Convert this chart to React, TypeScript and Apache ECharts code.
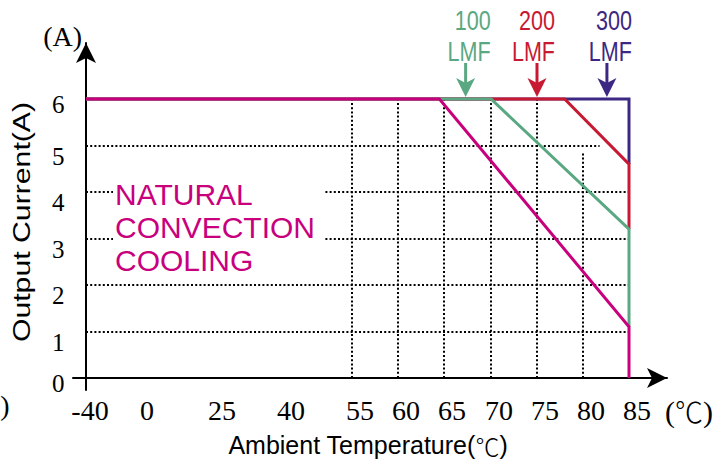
import React, { useEffect, useRef } from "react";
import * as echarts from "echarts";

// ---- Data ----
// x axis is a broken (non-linear) temperature scale: tick temperatures and their relative spacing
const xTicks = [-40, 0, 25, 40, 55, 60, 65, 70, 75, 80, 85];
const xTickPos = [0, 53, 128, 197, 266, 312, 358, 405, 451, 497, 543];
const yTicks = [0, 1, 2, 3, 4, 5, 6];

// derating curves: [temperature °C, output current A]
const lmf300 = [[-40, 6], [85, 6], [85, 4.6]];
const lmf200 = [[-40, 6], [78, 6], [85, 4.6], [85, 3.2]];
const lmf100 = [[-40, 6], [70, 6], [85, 3.2], [85, 1.1]];
const natural = [[-40, 6], [64.5, 6], [85, 1.1], [85, 0]];

// dotted grid lines
const gridTemps = [55, 60, 65, 70, 75, 80];
const gridTempTop = [6, 6, 6, 6, 6, 4.85];
const gridCurrents = [1, 2, 3, 4, 5];
const gridCurrentEnd = [85, 85, 85, 85, 81.8];

// LMF arrows
const arrowLabels = ["100", "200", "300"];
const arrowTemps = [67.3, 75, 82.6];

const COLORS = {
  natural: "#C8007D",
  lmf100: "#5AA882",
  lmf200: "#C81932",
  lmf300: "#3C2882",
};

const serif = "'Liberation Serif', 'Times New Roman', serif";
const sans = "'Liberation Sans', Arial, sans-serif";
const cjk = "'Noto Sans CJK SC', 'Noto Sans CJK JP', sans-serif";

function toPos(t: number): number {
  for (let i = 0; i < xTicks.length - 1; i++) {
    if (t <= xTicks[i + 1] || i === xTicks.length - 2) {
      const f = (t - xTicks[i]) / (xTicks[i + 1] - xTicks[i]);
      return xTickPos[i] + f * (xTickPos[i + 1] - xTickPos[i]);
    }
  }
  return xTickPos[xTickPos.length - 1];
}

const toSeries = (arr: number[][]) => arr.map(([t, v]) => [toPos(t), v]);

export default function App() {
  const ref = useRef<HTMLDivElement>(null);

  useEffect(() => {
    if (!ref.current) return;
    const chart = echarts.init(ref.current, null, { renderer: "svg" });

    const gridData: any[] = [];
    gridTemps.forEach((t, i) => {
      gridData.push({ coords: [[toPos(t), 0], [toPos(t), gridTempTop[i]]] });
    });
    gridCurrents.forEach((c, i) => {
      gridData.push({ coords: [[toPos(-40), c], [toPos(gridCurrentEnd[i]), c]] });
    });

    const labelIndex = (v: number) => xTickPos.findIndex((p) => Math.abs(p - v) < 0.01);

    const lineSeries = (data: number[][], color: string, z: number) => ({
      type: "line",
      data: toSeries(data),
      showSymbol: false,
      symbol: "none",
      silent: true,
      z,
      lineStyle: { color, width: 3, join: "miter" },
    });

    chart.setOption({
      animation: false,
      grid: { left: 73, right: 54, top: 43, bottom: 77, outerBoundsMode: "none" },
      xAxis: {
        type: "value",
        min: -13,
        max: 581,
        axisLine: {
          onZero: true,
          lineStyle: { color: "#000", width: 2 },
          symbol: ["none", "arrow"],
          symbolSize: [15, 20],
        },
        axisTick: { show: false },
        splitLine: { show: false },
        axisLabel: {
          customValues: xTickPos,
          margin: 20,
          verticalAlign: "middle",
          color: "#000",
          fontFamily: serif,
          fontSize: 28,
          formatter: (v: number) => {
            const i = labelIndex(v);
            if (i < 0) return "";
            return i === 0 ? `{f|${xTicks[i]}}` : `{n|${xTicks[i]}}`;
          },
          rich: {
            f: { fontFamily: serif, fontSize: 28, color: "#000", padding: [0, 0, 0, 8] },
            n: { fontFamily: serif, fontSize: 28, color: "#000", padding: [0, 0, 0, 16] },
          },
        },
      },
      yAxis: {
        type: "value",
        min: -0.258,
        max: 7.204,
        name: "(A)",
        nameLocation: "end",
        nameGap: 7,
        nameMoveOverlap: false,
        nameTextStyle: {
          fontFamily: serif,
          fontSize: 28,
          color: "#000",
          align: "right",
          verticalAlign: "middle",
          padding: [0, 4, 0, 0],
        },
        axisLine: {
          onZero: true,
          lineStyle: { color: "#000", width: 2 },
          symbol: ["none", "arrow"],
          symbolSize: [15, 20],
        },
        axisTick: { show: false },
        splitLine: { show: false },
        axisLabel: {
          customValues: yTicks,
          margin: 8.5,
          align: "right",
          verticalAlign: "middle",
          color: "#000",
          fontFamily: serif,
          fontSize: 25,
          formatter: (v: number) => {
            if (v === 0) return `{z|${v}}`;
            if (v === 6) return `{t|${v}}`;
            return `{n|${v}}`;
          },
          rich: {
            z: { fontFamily: serif, fontSize: 25, color: "#000", padding: [10, 0, 0, 0] },
            t: { fontFamily: serif, fontSize: 25, color: "#000", padding: [12, 0, 0, 0] },
            n: { fontFamily: serif, fontSize: 25, color: "#000", padding: [22, 0, 0, 0] },
          },
        },
      },
      series: [
        {
          type: "lines",
          coordinateSystem: "cartesian2d",
          silent: true,
          z: 1,
          lineStyle: { color: "#000", width: 2, type: [2, 2.2], opacity: 1 },
          data: gridData,
        },
        lineSeries(lmf300, COLORS.lmf300, 3),
        lineSeries(lmf200, COLORS.lmf200, 4),
        lineSeries(lmf100, COLORS.lmf100, 5),
        lineSeries(natural, COLORS.natural, 6),
      ],
    });

    const px = (t: number, v: number) =>
      chart.convertToPixel({ gridIndex: 0 } as any, [toPos(t), v]) as number[];

    const arrowColors = [COLORS.lmf100, COLORS.lmf200, COLORS.lmf300];
    const textDx = [25, 18, 25];
    const elements: any[] = [];

    arrowLabels.forEach((lab, i) => {
      const [x, y6] = px(arrowTemps[i], 6);
      const tip = y6 - 2;
      const c = arrowColors[i];
      elements.push({
        type: "line",
        z: 50,
        silent: true,
        shape: { x1: x, y1: tip - 34, x2: x, y2: tip - 12 },
        style: { stroke: c, lineWidth: 3 },
      });
      elements.push({
        type: "polygon",
        z: 50,
        silent: true,
        shape: {
          points: [
            [x, tip],
            [x - 9.5, tip - 19],
            [x, tip - 14],
            [x + 9.5, tip - 19],
          ],
        },
        style: { fill: c },
      });
      elements.push({
        type: "text",
        z: 50,
        silent: true,
        x: x + textDx[i],
        y: 35.5,
        scaleX: 0.77,
        style: {
          text: `${lab}\nLMF`,
          fontFamily: sans,
          fontSize: 28,
          lineHeight: 31,
          fill: c,
          align: "right",
          verticalAlign: "middle",
        },
      });
    });

    // white box behind the natural-convection note
    elements.push({
      type: "rect",
      z: 40,
      silent: true,
      shape: { x: 113, y: 175, width: 212, height: 102 },
      style: { fill: "#fff" },
    });
    elements.push({
      type: "text",
      z: 50,
      silent: true,
      x: 115,
      y: 177.6,
      style: {
        text: "NATURAL\nCONVECTION\nCOOLING",
        fontFamily: sans,
        fontSize: 30,
        lineHeight: 33,
        fill: COLORS.natural,
        align: "left",
        verticalAlign: "top",
      },
    });

    // unit at the end of the x axis
    const [xEnd, y0] = px(85, 0);
    elements.push({
      type: "text",
      z: 50,
      silent: true,
      x: xEnd + 36,
      y: y0 + 33,
      style: {
        text: "{p|(}{c|℃}{p|)}",
        align: "left",
        verticalAlign: "middle",
        rich: {
          p: { fontFamily: serif, fontSize: 30, fill: "#000" },
          c: { fontFamily: cjk, fontSize: 28, fill: "#000", fontWeight: 300 },
        },
      },
    });

    // axis titles
    elements.push({
      type: "text",
      z: 50,
      silent: true,
      x: 22,
      y: 222,
      rotation: Math.PI / 2,
      scaleX: 1.26,
      style: {
        text: "Output Current(A)",
        fontFamily: sans,
        fontSize: 24,
        fill: "#000",
        align: "center",
        verticalAlign: "middle",
      },
    });
    elements.push({
      type: "text",
      z: 50,
      silent: true,
      x: 368,
      y: 445,
      style: {
        text: "{a|Ambient Temperature(}{c|℃}{a|)}",
        align: "center",
        verticalAlign: "middle",
        rich: {
          a: { fontFamily: sans, fontSize: 25, fill: "#000" },
          c: { fontFamily: cjk, fontSize: 24, fill: "#000", fontWeight: 300 },
        },
      },
    });
    elements.push({
      type: "text",
      z: 50,
      silent: true,
      x: 5,
      y: 405,
      style: {
        text: ")",
        fontFamily: serif,
        fontSize: 28,
        fill: "#000",
        align: "center",
        verticalAlign: "middle",
      },
    });

    chart.setOption({ graphic: { elements } });

    return () => chart.dispose();
  }, []);

  return (
    <div
      ref={ref}
      style={{ position: "absolute", left: 0, top: 0, width: 721, height: 467 }}
    />
  );
}
